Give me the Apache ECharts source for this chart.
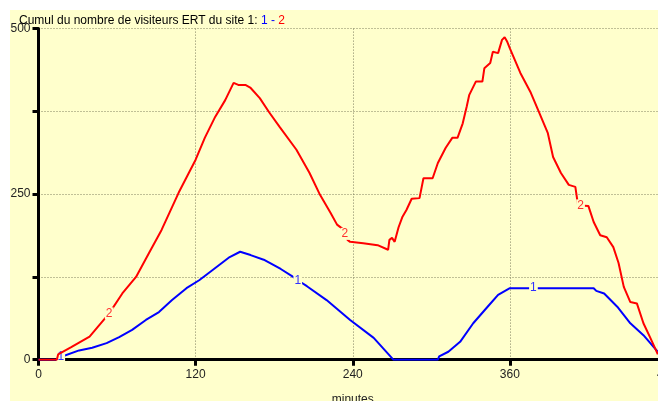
<!DOCTYPE html>
<html>
<head>
<meta charset="utf-8">
<script src="https://cdn.jsdelivr.net/npm/echarts@6/dist/echarts.min.js"></script>
<style>
html,body{margin:0;padding:0;background:#fff;}
#bg{position:absolute;left:10px;top:10px;width:648px;height:391px;background:#ffffcc;}
#chart{position:absolute;left:0;top:0;width:658px;height:401px;}
</style>
</head>
<body>
<div id="bg"></div>
<div id="chart"></div>
<script>
// Series 2 (red): time (minutes) and cumulative visitors
const redT = [0,14,15,25,39,54,64,74.5,84.4,94,107,120,127,135,142.6,149,152.6,158,161.7,169,176,184,197,207,215,223,228,232,234,236,238,248,259,267,268,270,272,275,278,281,285,291,294,301,305,311,316,320,324,327,329,334,339,340.5,345,347,351,354,356,358,360,368,376,382,389,393,399,405,410,412,414,420,424,429,434,439,443,447,452,457,462,467,473];
const redV = [0,0,8,19,35,70,100,125,161,196,252,302,335,367,392,418,415,415,411,395,374,352,317,282,249,222,204,198,190,181,178,176,173,166,181,184,178,200,216,226,243,244,274,274,297,320,335,335,357,382,400,420,420,440,448,465,463,483,487,480,470,433,403,375,342,306,282,264,261,234,233,232,208,188,185,170,146,110,87,85,55,34,8];
// Series 1 (blue)
const blueT = [0,15,17,31,41,52,61.6,71.5,82,92,102,113,122.7,130,140,146,154,162,172,185,194.5,198,205,220,238,256,271,305,306,313,322,332,343,351,360,378,424,426,432,442,452,462,473];
const blueV = [0,0,4,14,18,25,34,45,60,72,90,108,120,131,146,155,163,158,151,137,125,120,111,90,60,33,0,0,5,12,27,55,80,98,108,108,108,104,100,80,55,37,12];
// Times where the series name is written on the curve
const redLabelT = [54,234,414];
const blueLabelT = [17,198,378];
// Axis
const xTicks = [0,120,240,360,480];
const yLabels = [0,250,500];
const titleText = 'Cumul du nombre de visiteurs ERT du site 1: ';
const seriesNames = ['1','2'];

const FONT = 'Liberation Sans, Arial, sans-serif';
function build(ts, vs, labelTs, name, color){
  return ts.map((t,i)=>{
    if(labelTs.indexOf(t)>=0){
      return {value:[t,vs[i]], label:{show:true, formatter:name, position:'inside', color:color, fontSize:12, fontFamily:FONT, backgroundColor:'#ffffcc', padding:[0,1]}};
    }
    return [t,vs[i]];
  });
}

const chart = echarts.init(document.getElementById('chart'), null, {renderer:'canvas'});
chart.setOption({
  animation:false,
  backgroundColor:'transparent',
  title:{
    left:14, top:10,
    text:'{a|'+titleText+'}{b|'+seriesNames[0]+' - }{c|'+seriesNames[1]+'}',
    textStyle:{fontWeight:'normal', rich:{
      a:{color:'#000',fontSize:12,fontFamily:FONT,fontWeight:'normal'},
      b:{color:'#0000ff',fontSize:12,fontFamily:FONT,fontWeight:'normal'},
      c:{color:'#ff0000',fontSize:12,fontFamily:FONT,fontWeight:'normal'}
    }}
  },
  grid:{left:38.5, top:28.6, right:-9, bottom:41.3, containLabel:false, outerBoundsMode:'none'},
  xAxis:{
    type:'value', min:xTicks[0], max:xTicks[xTicks.length-1], interval:120,
    name:'minutes', nameLocation:'middle', nameGap:34,
    nameTextStyle:{color:'#222',fontSize:12,fontFamily:FONT},
    axisLine:{onZero:false, lineStyle:{color:'#000',width:3}},
    axisTick:{length:6, lineStyle:{color:'#000',width:3}},
    axisLabel:{color:'#222',fontSize:12,fontFamily:FONT,margin:9},
    splitLine:{show:true,lineStyle:{color:'#808060',type:[1,2],width:1}}
  },
  yAxis:{
    type:'value', min:0, max:500, interval:125,
    axisLine:{show:true, lineStyle:{color:'#000',width:3}},
    axisTick:{show:true, length:6, lineStyle:{color:'#000',width:3}},
    axisLabel:{color:'#222',fontSize:12,fontFamily:FONT,margin:8,
      formatter:v=> yLabels.indexOf(v)>=0 ? String(v) : ''},
    splitLine:{show:true,lineStyle:{color:'#808060',type:[1,2],width:1}}
  },
  series:[
    {name:'1', type:'line', data:build(blueT,blueV,blueLabelT,'1','#3030ff'),
     showSymbol:true, symbolSize:0, symbol:'circle', lineStyle:{color:'#0000ff',width:2}, itemStyle:{color:'#0000ff'},
     label:{show:false}, z:3},
    {name:'2', type:'line', data:build(redT,redV,redLabelT,'2','#ff3030'),
     showSymbol:true, symbolSize:0, symbol:'circle', lineStyle:{color:'#ff0000',width:2}, itemStyle:{color:'#ff0000'},
     label:{show:false}, z:4}
  ]
});
</script>
</body>
</html>
